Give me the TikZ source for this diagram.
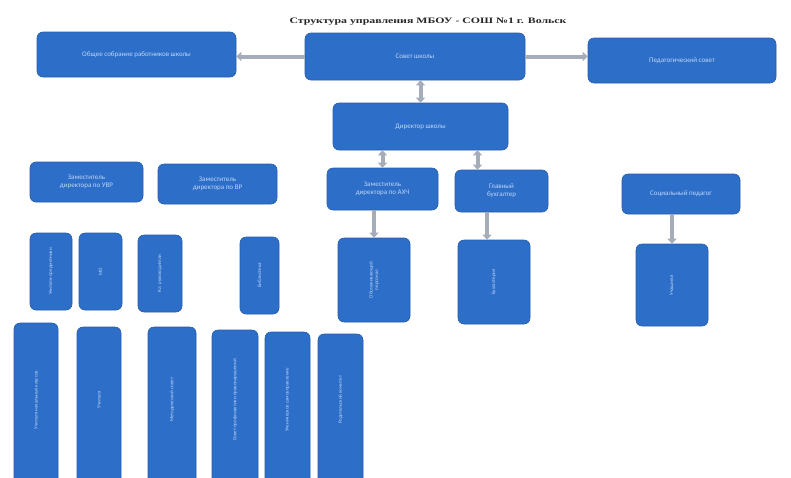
\documentclass[tikz,border=0pt]{standalone}
\usepackage{fontspec}
\setmainfont{Carlito}
\newfontfamily\titlefont{Liberation Serif}
\usetikzlibrary{arrows.meta}
\definecolor{boxblue}{RGB}{45,110,200}
\definecolor{boxedge}{RGB}{38,92,170}
\definecolor{boxtext}{RGB}{190,215,248}
\definecolor{arrowgray}{RGB}{165,172,186}
\tikzset{
  orgbox/.style={draw=boxedge, fill=boxblue, rounded corners=6pt, line width=0.6pt,
     text=boxtext, font=\fontsize{7}{8}\selectfont, align=center, inner sep=2pt},
  vbox/.style={orgbox},
  vtext/.style={text=boxtext, font=\fontsize{5}{5.5}\selectfont, rotate=90, align=center},
  conn/.style={draw=arrowgray, line width=4pt, -{Triangle[length=5pt,width=9pt]}},
  conn2/.style={draw=arrowgray, line width=4pt, {Triangle[length=5pt,width=9pt]}-{Triangle[length=5pt,width=9pt]}}
}
\begin{document}
\begin{tikzpicture}[x=1pt,y=-1pt]
\useasboundingbox[fill=white] (0,0) rectangle (791,477);

\node[text=black!85, inner sep=0pt] (title) at (428,22)
  {\titlefont\bfseries\resizebox{277pt}{5.5pt}{Структура управления МБОУ - СОШ №1 г. Вольск}};

% top row
\node[orgbox, minimum width=199pt, minimum height=45pt] (lt) at (136.5,54.5) {Общее собрание работников школы};
\node[orgbox, minimum width=220pt, minimum height=47pt] (ct) at (415,56.5) {Совет школы};
\node[orgbox, minimum width=188pt, minimum height=45pt] (rt) at (682,60.5) {Педагогический совет};
\node[orgbox, minimum width=175pt, minimum height=47pt] (mid) at (420.5,126.5) {Директор школы};

% second row
\node[orgbox, minimum width=113pt, minimum height=40pt] (A) at (86.5,182) {Заместитель\\директора по УВР};
\node[orgbox, minimum width=119pt, minimum height=40pt] (B) at (217.5,184) {Заместитель\\директора по ВР};
\node[orgbox, minimum width=111pt, minimum height=42pt] (C) at (382.5,189) {Заместитель\\директора по АХЧ};
\node[orgbox, minimum width=93pt, minimum height=42pt] (D) at (501.5,191) {Главный\\бухгалтер};
\node[orgbox, minimum width=118pt, minimum height=40pt] (E) at (681,194) {Социальный педагог};

% third row (right part)
\node[vbox, minimum width=72pt, minimum height=84pt] (F) at (374,280) {};
\node[vtext] at (F.center) {Обслуживающий\\персонал};
\node[vbox, minimum width=72pt, minimum height=84pt] (G) at (494,282) {};
\node[vtext] at (G.center) {Бухгалтерия};
\node[vbox, minimum width=72pt, minimum height=82pt] (H) at (672,285) {};
\node[vtext] at (H.center) {Учащиеся};

% small vertical boxes
\node[vbox, minimum width=42pt, minimum height=77pt] (s1) at (51,271.5) {};
\node[vtext] at (s1.center) {Учителя-предметники};
\node[vbox, minimum width=43pt, minimum height=77pt] (s2) at (100.5,271.5) {};
\node[vtext] at (s2.center) {МО};
\node[vbox, minimum width=44pt, minimum height=77pt] (s3) at (160,273.5) {};
\node[vtext] at (s3.center) {Кл. руководители};
\node[vbox, minimum width=39pt, minimum height=77pt] (s4) at (259.5,275.5) {};
\node[vtext] at (s4.center) {Библиотека};

% tall vertical boxes
\node[vbox, minimum width=44pt, minimum height=170pt] (t1) at (36,408) {};
\node[vtext] at (36,400) {Учителя начальных классов};
\node[vbox, minimum width=44pt, minimum height=166pt] (t2) at (99,410) {};
\node[vtext] at (99,400) {Учителя};
\node[vbox, minimum width=48pt, minimum height=166pt] (t3) at (172,410) {};
\node[vtext] at (172,400) {Методический совет};
\node[vbox, minimum width=46pt, minimum height=163pt] (t4) at (235,411.5) {};
\node[vtext] at (235,400) {Совет профилактики правонарушений};
\node[vbox, minimum width=45pt, minimum height=161pt] (t5) at (287.5,412.5) {};
\node[vtext] at (287.5,400) {Ученическое самоуправление};
\node[vbox, minimum width=45pt, minimum height=159pt] (t6) at (340.5,413.5) {};
\node[vtext] at (340.5,400) {Родительский комитет};

% connectors
\draw[conn] (ct.west) -- (ct.west -| lt.east);
\draw[conn] (ct.east) -- (ct.east -| rt.west);
\draw[conn2] (mid.north |- ct.south) -- (mid.north);
\draw[conn2] (C.north |- mid.south) -- (C.north);
\coordinate (dtop) at ([xshift=-24pt]D.north);
\draw[conn2] (dtop |- mid.south) -- (dtop);
\draw[conn] (F.north |- C.south) -- (F.north);
\coordinate (gtop) at ([xshift=-7pt]G.north);
\draw[conn] (gtop |- D.south) -- (gtop);
\draw[conn] (H.north |- E.south) -- (H.north);
\end{tikzpicture}
\end{document}
